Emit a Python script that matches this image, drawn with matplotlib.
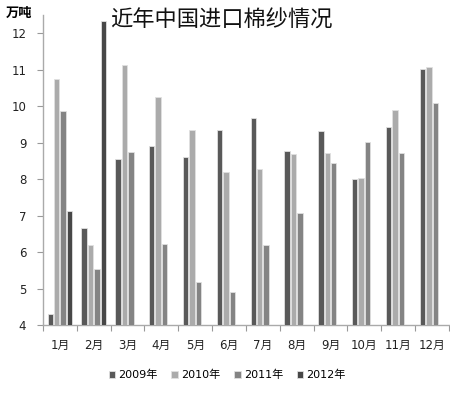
import numpy as np
import matplotlib
matplotlib.use("Agg")
import matplotlib.pyplot as plt

plt.rcParams['font.family'] = ['DejaVu Sans', 'Noto Sans CJK SC']

months = ["1月", "2月", "3月", "4月", "5月", "6月", "7月", "8月", "9月", "10月", "11月", "12月"]
series_names = ["2009年", "2010年", "2011年", "2012年"]
v2009 = [4.30, 6.67, 8.55, 8.90, 8.62, 9.36, 9.67, 8.78, 9.32, 8.01, 9.42, 11.02]
v2010 = [10.75, 6.20, 11.13, 10.25, 9.36, 8.20, 8.29, 8.69, 8.72, 8.04, 9.90, 11.08]
v2011 = [9.88, 5.55, 8.75, 6.22, 5.17, 4.91, 6.20, 7.06, 8.44, 9.03, 8.72, 10.08]
v2012 = [7.13, 12.33, None, None, None, None, None, None, None, None, None, None]
yticks = [4, 5, 6, 7, 8, 9, 10, 11, 12]

colors = ['#595959', '#ababab', '#848484', '#474747']
series = [v2009, v2010, v2011, v2012]

fig = plt.figure(figsize=(4.5, 3.94), dpi=100)
ax = fig.add_axes([0.0956, 0.175, 0.902, 0.787])

x = np.arange(len(months))
step = 0.19
width = 0.16
for i, (name, vals, c) in enumerate(zip(series_names, series, colors)):
    arr = np.array([np.nan if v is None else v for v in vals], dtype=float)
    ax.bar(x + (i - 1.5) * step, arr - 4, bottom=4, width=width, color=c,
           edgecolor='#e0e0e0', linewidth=0.6, label=name, zorder=3)

ax.set_xlim(-0.5, len(months) - 0.5)
ax.set_ylim(4, 12.5)
ax.set_yticks(yticks)
ax.set_yticklabels([str(t) for t in yticks], fontsize=8.5, color='#222222')
ax.set_xticks(x)
ax.set_xticklabels(months, fontsize=8.5, color='#222222')
ax.set_xticks(np.arange(len(months) + 1) - 0.5, minor=True)
ax.tick_params(axis='x', which='major', length=0, pad=10)
ax.tick_params(axis='x', which='minor', length=4, color='#999999', width=0.8)
ax.tick_params(axis='y', length=4, color='#999999', width=0.8, pad=8)

for s in ['top', 'right']:
    ax.spines[s].set_visible(False)
for s in ['left', 'bottom']:
    ax.spines[s].set_color('#aaaaaa')
    ax.spines[s].set_linewidth(1.0)

fig.text(0.012, 0.966, "万吨", fontsize=9.5, fontweight='bold',
         family=['Noto Sans CJK SC'], ha='left', va='center')
fig.text(0.245, 0.949, "近年中国进口棉纱情况", fontsize=16,
         family=['Noto Sans CJK SC'], ha='left', va='center', color='#111111')

fig.legend(loc='center', bbox_to_anchor=(0.505, 0.048), ncol=4, frameon=False,
           fontsize=8, handlelength=0.6, handleheight=0.6, handletextpad=0.3,
           columnspacing=1.2)

fig.savefig("out.png", dpi=100)
